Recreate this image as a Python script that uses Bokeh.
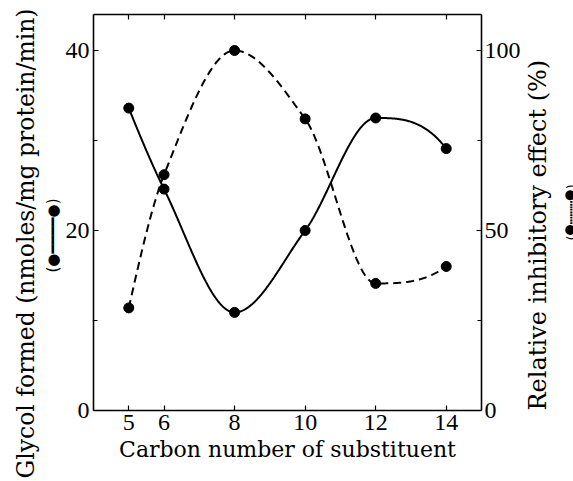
import numpy as np
from bokeh.plotting import figure
from bokeh.models import Range1d, LinearAxis, FixedTicker, Title
from bokeh.embed import file_html
from bokeh.resources import INLINE

# ---- data ----
carbon = [5, 6, 8, 10, 12, 14]
glycol = [33.6, 24.6, 10.9, 20.0, 32.5, 29.1]        # nmoles/mg protein/min (left axis)
inhibition = [28.5, 65.5, 100.0, 81.0, 35.3, 40.0]   # relative inhibitory effect % (right axis)

x_ticks = [5, 6, 8, 10, 12, 14]
left_ticks = [0, 20, 40]
left_minor = [10, 30]
right_ticks = [0, 50, 100]
right_minor = [25, 75]

x_title = "Carbon number of substituent"
left_title = "Glycol formed (nmoles/mg protein/min)"
right_title = "Relative inhibitory effect (%)"


def pchip(x, y, xq):
    x = np.asarray(x, float)
    y = np.asarray(y, float)
    h = np.diff(x)
    d = np.diff(y) / h
    n = len(x)
    m = np.zeros(n)
    for k in range(1, n - 1):
        if d[k - 1] * d[k] > 0:
            w1 = 2 * h[k] + h[k - 1]
            w2 = h[k] + 2 * h[k - 1]
            m[k] = (w1 + w2) / (w1 / d[k - 1] + w2 / d[k])

    def end(h0, h1, d0, d1):
        mm = ((2 * h0 + h1) * d0 - h0 * d1) / (h0 + h1)
        if np.sign(mm) != np.sign(d0):
            mm = 0.0
        elif np.sign(d0) != np.sign(d1) and abs(mm) > abs(3 * d0):
            mm = 3 * d0
        return mm

    m[0] = end(h[0], h[1], d[0], d[1])
    m[-1] = end(h[-1], h[-2], d[-1], d[-2])
    idx = np.clip(np.searchsorted(x, xq) - 1, 0, n - 2)
    t = (xq - x[idx]) / h[idx]
    h00 = 2 * t**3 - 3 * t**2 + 1
    h10 = t**3 - 2 * t**2 + t
    h01 = -2 * t**3 + 3 * t**2
    h11 = t**3 - t**2
    return h00 * y[idx] + h10 * h[idx] * m[idx] + h01 * y[idx + 1] + h11 * h[idx] * m[idx + 1]


p = figure(width=573, height=481, x_range=Range1d(4, 15), y_range=Range1d(0, 44),
           output_backend="svg", toolbar_location=None,
           x_axis_location=None, y_axis_location=None,
           min_border_left=93, min_border_right=92, min_border_top=14, min_border_bottom=71)
p.extra_y_ranges = {"right": Range1d(0, 110)}
p.grid.visible = False
p.outline_line_color = None
p.background_fill_color = "white"
p.border_fill_color = "white"

TITLE_FONT = "DejaVu Serif"


def style(ax):
    ax.axis_line_width = 1.6
    ax.axis_line_color = "black"
    ax.major_tick_in = 5
    ax.major_tick_out = 0
    ax.minor_tick_in = 4
    ax.minor_tick_out = 0
    ax.major_tick_line_width = 1.2
    ax.minor_tick_line_width = 1.2
    ax.major_label_text_font = "Liberation Serif"
    ax.major_label_text_font_size = "24px"
    ax.major_label_text_color = "black"
    ax.major_label_standoff = 4
    ax.axis_label_text_font = TITLE_FONT
    ax.axis_label_text_font_size = "22px"
    ax.axis_label_text_font_style = "normal"
    ax.axis_label_text_color = "black"


bottom = LinearAxis(ticker=FixedTicker(ticks=x_ticks, minor_ticks=[]), axis_label=x_title)
top = LinearAxis(ticker=FixedTicker(ticks=x_ticks, minor_ticks=[]))
left = LinearAxis(ticker=FixedTicker(ticks=left_ticks, minor_ticks=left_minor))
right = LinearAxis(y_range_name="right", axis_label=right_title,
                   ticker=FixedTicker(ticks=right_ticks, minor_ticks=right_minor))
for ax in (bottom, top, left, right):
    style(ax)
top.major_label_text_font_size = "0px"
top.major_label_text_color = None
top.major_label_standoff = 0
bottom.axis_label_standoff = 4
right.major_label_standoff = 3
right.axis_label_standoff = 0
right.axis_label_text_font_size = "24px"
right.axis_label_orientation = np.pi / 2
if "axis_label_align" in right.properties():
    for choice in ("start", "left"):
        try:
            right.axis_label_align = choice
            break
        except Exception:
            pass

# right legend symbol: sits at the right edge, partly cut as in the reference
right_legend = Title(text="(●┅┅┅●)", align="center", standoff=0,
                     text_font="DejaVu Sans", text_font_size="13px",
                     text_font_style="normal", text_color="black")
try:
    right_legend.standoff = -14
    right_legend.vertical_align = "top"
    right.axis_label_standoff = 14
except Exception:
    right_legend.standoff = 0
    right_legend.vertical_align = "bottom"
    right.axis_label_standoff = 0

p.add_layout(bottom, "below")
p.add_layout(top, "above")
p.add_layout(left, "left")
p.add_layout(right, "right")

# left titles (legend symbol line nearer the axis, then the main title)
p.add_layout(Title(text="(●━━━━●)", align="left", offset=138, standoff=2,
                   text_font="DejaVu Sans", text_font_size="15px",
                   text_font_style="normal", text_color="black"), "left")
p.add_layout(Title(text=left_title, align="left", offset=-68, standoff=2,
                   text_font=TITLE_FONT, text_font_size="23.5px",
                   text_font_style="normal", text_color="black"), "left")
p.add_layout(right_legend, "right")

xs = np.linspace(min(carbon), max(carbon), 400)
p.line(xs, pchip(carbon, glycol, xs), line_color="black", line_width=2)
p.line(xs, pchip(carbon, inhibition, xs), line_color="black", line_width=2,
       line_dash="8 5", y_range_name="right")
p.scatter(carbon, glycol, size=10, color="black")
p.scatter(carbon, inhibition, size=10, color="black", y_range_name="right")

open("out.html", "w").write(file_html(p, INLINE))
